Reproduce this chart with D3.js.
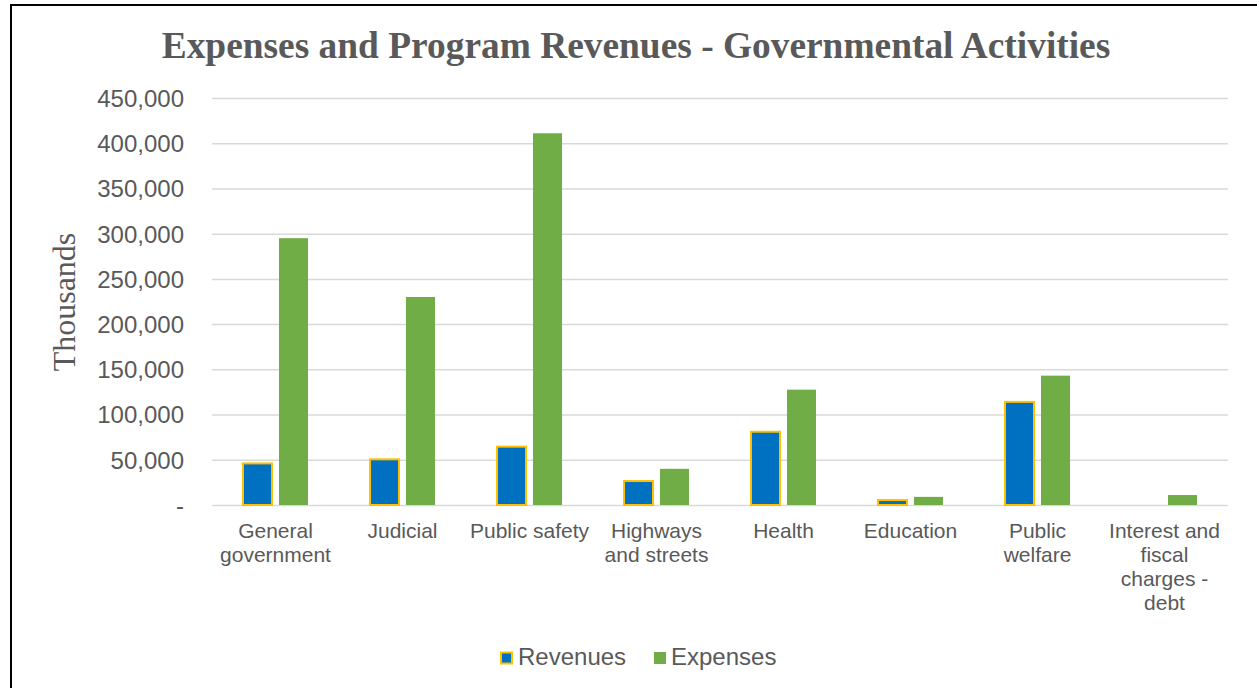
<!DOCTYPE html>
<html>
<head>
<meta charset="utf-8">
<script src="https://cdn.jsdelivr.net/npm/d3@7"></script>
<style>
    body { margin: 0; background: #fff; }
    .axis text { font-family: "Liberation Sans", Arial, sans-serif; fill: #595959; }
</style>
</head>
<body>
<div id="vis"></div>
<script>
/* Expenses and program revenues by function - grouped bar chart */

// Categories, with the line breaks used for the x labels
var categories = ["General government", "Judicial", "Public safety", "Highways and streets",
    "Health", "Education", "Public welfare", "Interest and fiscal charges - debt"];
var categoryLines = [["General", "government"], ["Judicial"], ["Public safety"], ["Highways", "and streets"],
    ["Health"], ["Education"], ["Public", "welfare"], ["Interest and", "fiscal", "charges -", "debt"]];

// Series values (thousands)
var seriesNames = ["Revenues", "Expenses"];
var revenues = [46000, 50500, 64500, 26500, 81000, 5500, 114000, 0];
var expenses = [295000, 230000, 411000, 40000, 127500, 9000, 143000, 11000];

// Y tick values and labels
var yTicks = [0, 50000, 100000, 150000, 200000, 250000, 300000, 350000, 400000, 450000];
var yTickLabels = ["-", "50,000", "100,000", "150,000", "200,000", "250,000", "300,000", "350,000", "400,000", "450,000"];

var width = 1257;
var height = 688;

var margin = { top: 98, right: 29, bottom: 183, left: 212 };
var drawWidth = width - margin.left - margin.right;
var drawHeight = height - margin.top - margin.bottom;

var colors = { Revenues: "#0070C0", Expenses: "#70AD47" };

var svg = d3.select("#vis").append("svg").attr("width", width).attr("height", height);

// outer frame (right and bottom edges run off the picture)
svg.append("rect")
    .attr("x", 11).attr("y", 5)
    .attr("width", 1300).attr("height", 800)
    .attr("fill", "none").attr("stroke", "#000").attr("stroke-width", 2);

// title
svg.append("text")
    .attr("x", 636).attr("y", 58)
    .attr("text-anchor", "middle")
    .style("font-family", "'Liberation Serif', 'Times New Roman', serif")
    .style("font-weight", "bold")
    .style("font-size", "37.4px")
    .style("fill", "#595959")
    .text("Expenses and Program Revenues - Governmental Activities");

var g = svg.append("g").attr("transform", "translate(" + margin.left + "," + margin.top + ")");

/************************************** Scales ***************************************/
var xScale = d3.scaleBand().domain(categories).range([0, drawWidth]).paddingInner(0).paddingOuter(0);
var xSub = d3.scaleBand().domain(seriesNames).range([0, xScale.bandwidth()]).paddingInner(0.194).paddingOuter(0.861);
var yScale = d3.scaleLinear().domain([0, 450000]).range([drawHeight, 0]);

/************************************** Gridlines + axes ***************************************/
var yAxis = d3.axisLeft(yScale).tickValues(yTicks)
    .tickFormat(function(d, i) { return yTickLabels[i]; })
    .tickSize(-drawWidth).tickPadding(28);

var yAxisG = g.append("g").attr("class", "axis").call(yAxis);
yAxisG.select(".domain").remove();
yAxisG.selectAll("line").attr("stroke", "#d9d9d9").attr("stroke-width", 1.5);
yAxisG.selectAll("text").style("font-size", "24px").attr("dy", "0.35em");

var xAxisG = g.append("g").attr("class", "axis").attr("transform", "translate(0," + drawHeight + ")");
xAxisG.selectAll(".xlabel").data(categories).enter().append("text")
    .attr("class", "xlabel")
    .attr("text-anchor", "middle")
    .attr("transform", function(d) { return "translate(" + (xScale(d) + xScale.bandwidth() / 2) + ",33)"; })
    .style("font-size", "21px")
    .each(function(d, i) {
        var t = d3.select(this);
        categoryLines[i].forEach(function(line, j) {
            t.append("tspan").attr("x", 0).attr("y", j * 24).text(line);
        });
    });

// y axis title
svg.append("text")
    .attr("transform", "translate(75,302) rotate(-90)")
    .attr("text-anchor", "middle")
    .style("font-family", "'Liberation Serif', 'Times New Roman', serif")
    .style("font-size", "32px")
    .style("fill", "#595959")
    .text("Thousands");

/************************************** Bars ***************************************/
var rows = categories.map(function(c, i) {
    return { category: c, values: [
        { key: "Revenues", value: revenues[i] },
        { key: "Expenses", value: expenses[i] }
    ] };
});

var groups = g.selectAll(".group").data(rows).enter().append("g")
    .attr("class", "group")
    .attr("transform", function(d) { return "translate(" + xScale(d.category) + ",0)"; });

groups.selectAll("rect").data(function(d) { return d.values.filter(function(v) { return v.value > 0; }); })
    .enter().append("rect")
    .attr("x", function(d) { return xSub(d.key); })
    .attr("width", xSub.bandwidth())
    .attr("y", function(d) { return yScale(d.value); })
    .attr("height", function(d) { return drawHeight - yScale(d.value); })
    .attr("fill", function(d) { return colors[d.key]; })
    .attr("stroke", function(d) { return d.key === "Revenues" ? "#FFC000" : "none"; })
    .attr("stroke-width", 2);

/************************************** Legend ***************************************/
var legendX = [501, 654];
var legend = svg.selectAll(".legend").data(seriesNames).enter().append("g")
    .attr("class", "legend")
    .attr("transform", function(d, i) { return "translate(" + legendX[i] + ",652)"; });

legend.append("rect")
    .attr("width", function(d) { return d === "Revenues" ? 11 : 12; })
    .attr("height", function(d) { return d === "Revenues" ? 11 : 12; })
    .attr("x", 0).attr("y", function(d) { return d === "Revenues" ? 0.5 : 0; })
    .attr("fill", function(d) { return colors[d]; })
    .attr("stroke", function(d) { return d === "Revenues" ? "#FFC000" : "none"; })
    .attr("stroke-width", 2);

legend.append("text")
    .attr("x", 17).attr("y", 13)
    .style("font-family", "'Liberation Sans', Arial, sans-serif")
    .style("font-size", "24px")
    .style("fill", "#595959")
    .text(function(d) { return d; });
</script>
</body>
</html>
